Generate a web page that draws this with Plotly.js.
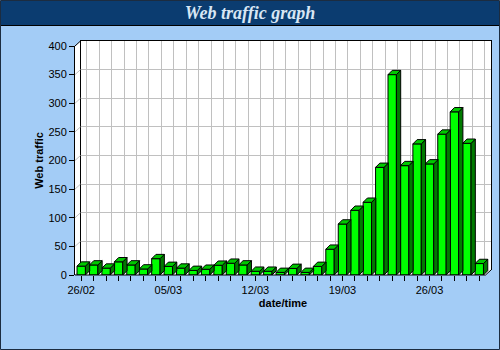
<!DOCTYPE html>
<html><head><meta charset="utf-8">
<script src="https://cdn.plot.ly/plotly-3.0.1.min.js"></script>
<style>html,body{margin:0;padding:0;background:#a3ccf6}#chart{width:500px;height:350px}</style>
</head><body><div id="chart"></div>
<script>
// ---- data ----
const categories = ['26/02','27/02','28/02','01/03','02/03','03/03','04/03','05/03','06/03','07/03','08/03',
  '09/03','10/03','11/03','12/03','13/03','14/03','15/03','16/03','17/03','18/03','19/03','20/03','21/03',
  '22/03','23/03','24/03','25/03','26/03','27/03','28/03','29/03','30/03'];
const traffic = [15.5,17.5,12,23,17.5,10.5,28.5,15,12,8,10,17,20.5,17.5,6.5,6.5,4.5,11.5,4.5,15,45,
  89,113,127,188,350,191,229,194,246,285,230,20];
const yTicks = [0,50,100,150,200,250,300,350,400];
const labelEvery = 7;

// ---- geometry / style ----
const W=500,H=350,L=75,R=9,T=41,B=75;
const plotW=W-L-R, plotH=H-T-B;          // 416 x 234
const wallDX=5.5, wallDY=5;              // depth of the back wall
const frontW=plotW-wallDX, frontH=plotH-wallDY;
const nSlots=categories.length;
const xmin=-0.5, xmax=nSlots-0.5, ymax=400;
const pxPerX=frontW/nSlots, unitsPerPxY=ymax/frontH;
const barW=0.675, hw=barW*pxPerX/2, dx=4.3, dy=4.3*unitsPerPxY;
const px=p=>(p-L)/plotW, py=p=>(H-B-p)/plotH;

const idx=categories.map((c,i)=>i);
const shapes=[];
// white floor/left wall/back wall region
const fx0=L, fy0=H-B, fxt=L+frontW, fyt=H-B-frontH;
shapes.push({type:'path',xref:'paper',yref:'paper',layer:'below',
  path:`M ${px(fx0)},${py(fyt)} L ${px(fx0+wallDX)},${py(fyt-wallDY)} L ${px(fxt+wallDX)},${py(fyt-wallDY)} L ${px(fxt+wallDX)},${py(fy0-wallDY)} L ${px(fxt)},${py(fy0)} L ${px(fx0)},${py(fy0)} Z`,
  fillcolor:'#ffffff',line:{width:0}});
// title bar & frame
shapes.push({type:'rect',xref:'paper',yref:'paper',layer:'below',x0:px(1),x1:px(W-1),y0:py(25),y1:py(1),fillcolor:'#0b3c70',line:{width:0}});
shapes.push({type:'line',xref:'paper',yref:'paper',layer:'below',x0:px(1),x1:px(W-1),y0:py(25.5),y1:py(25.5),line:{color:'#000',width:1}});
shapes.push({type:'rect',xref:'paper',yref:'paper',layer:'above',x0:px(0.5),x1:px(W-0.5),y0:py(H-0.5),y1:py(0.5),line:{color:'#1c2c40',width:1}});
// front x axis line and corner diagonals
shapes.push({type:'line',xref:'paper',yref:'paper',layer:'above',x0:px(fx0),x1:px(fxt),y0:py(fy0),y1:py(fy0),line:{color:'#000',width:1}});
shapes.push({type:'line',xref:'paper',yref:'paper',layer:'above',x0:px(fx0),x1:px(fx0+wallDX),y0:py(fyt),y1:py(fyt-wallDY),line:{color:'#000',width:1}});
shapes.push({type:'line',xref:'paper',yref:'paper',layer:'above',x0:px(fxt),x1:px(fxt+wallDX),y0:py(fy0),y1:py(fy0-wallDY),line:{color:'#000',width:1}});
// tick diagonals on the left wall
yTicks.slice(0,-1).forEach(v=>{
  shapes.push({type:'line',xref:'x2',yref:'y2',layer:'below',x0:xmin,x1:xmin+wallDX/pxPerX,y0:v,y1:v+wallDY*unitsPerPxY,line:{color:'#c0c0c0',width:1}});
});
// 3D faces of the bars
traffic.forEach((v,i)=>{
  shapes.push({type:'path',xref:'x2',yref:'y2',xsizemode:'pixel',xanchor:i,layer:'above',
    path:`M ${hw},0 L ${hw},${v} L ${hw+dx},${v+dy} L ${hw+dx},${dy} Z`,fillcolor:'#007a00',line:{color:'#000',width:1}});
  shapes.push({type:'path',xref:'x2',yref:'y2',xsizemode:'pixel',xanchor:i,layer:'above',
    path:`M ${-hw},${v} L ${hw},${v} L ${hw+dx},${v+dy} L ${-hw+dx},${v+dy} Z`,fillcolor:'#00c800',line:{color:'#000',width:1}});
});

const tickFont={family:'Liberation Sans, Arial, sans-serif',size:11,color:'#000'};
const data=[
  {type:'scatter',x:idx,y:traffic,xaxis:'x',yaxis:'y',mode:'none',hoverinfo:'skip',showlegend:false},
  {type:'bar',x:idx,y:traffic,xaxis:'x2',yaxis:'y2',width:barW,
   marker:{color:'#00ff00',line:{color:'#000',width:1}},showlegend:false}
];
const layout={
  width:W,height:H,margin:{l:L,r:R,t:T,b:B,pad:0},
  paper_bgcolor:'#a3ccf6',plot_bgcolor:'rgba(0,0,0,0)',
  title:{text:'Web traffic graph',x:0.5,xanchor:'center',xref:'container',y:1-13/H,yref:'container',yanchor:'middle',
    font:{family:'Liberation Serif, Times New Roman, serif',size:18,color:'#d8e6f4',style:'italic',weight:'bold'}},
  // back wall (grid)
  xaxis:{domain:[wallDX/plotW,1],range:[xmin,xmax],anchor:'y',side:'top',showgrid:true,gridcolor:'#c0c0c0',
    tick0:0,dtick:1,showticklabels:false,ticks:'',zeroline:false,showline:true,linecolor:'#000',linewidth:1,fixedrange:true},
  yaxis:{domain:[wallDY/plotH,1],range:[0,ymax],anchor:'x',showgrid:true,gridcolor:'#c0c0c0',tick0:0,dtick:50,
    showticklabels:false,ticks:'',zeroline:false,showline:true,mirror:true,linecolor:'#000',linewidth:1,fixedrange:true},
  // front axes (bars, ticks, labels)
  xaxis2:{domain:[0,1],range:[xmin,xmax+wallDX/pxPerX],anchor:'y2',showgrid:false,zeroline:false,showline:false,
    tickmode:'array',tickvals:idx,ticktext:categories.map((c,i)=>i%labelEvery===0?c:''),
    ticks:'outside',ticklen:5,tickcolor:'#000',tickfont:tickFont,
    title:{text:'date/time',standoff:4,font:{family:'Liberation Sans, Arial, sans-serif',size:11,color:'#000',weight:'bold'}},fixedrange:true},
  yaxis2:{domain:[0,frontH/plotH],range:[0,ymax],anchor:'x2',showgrid:false,zeroline:false,showline:true,linecolor:'#000',linewidth:1,
    tickmode:'array',tickvals:yTicks,ticks:'outside',ticklen:5,tickcolor:'#000',tickfont:tickFont,
    title:{text:'Web traffic',standoff:2,font:{family:'Liberation Sans, Arial, sans-serif',size:11,color:'#000',weight:'bold'}},fixedrange:true},
  shapes:shapes,showlegend:false,bargap:0
};
Plotly.newPlot('chart',data,layout,{staticPlot:true,displayModeBar:false});
</script></body></html>
